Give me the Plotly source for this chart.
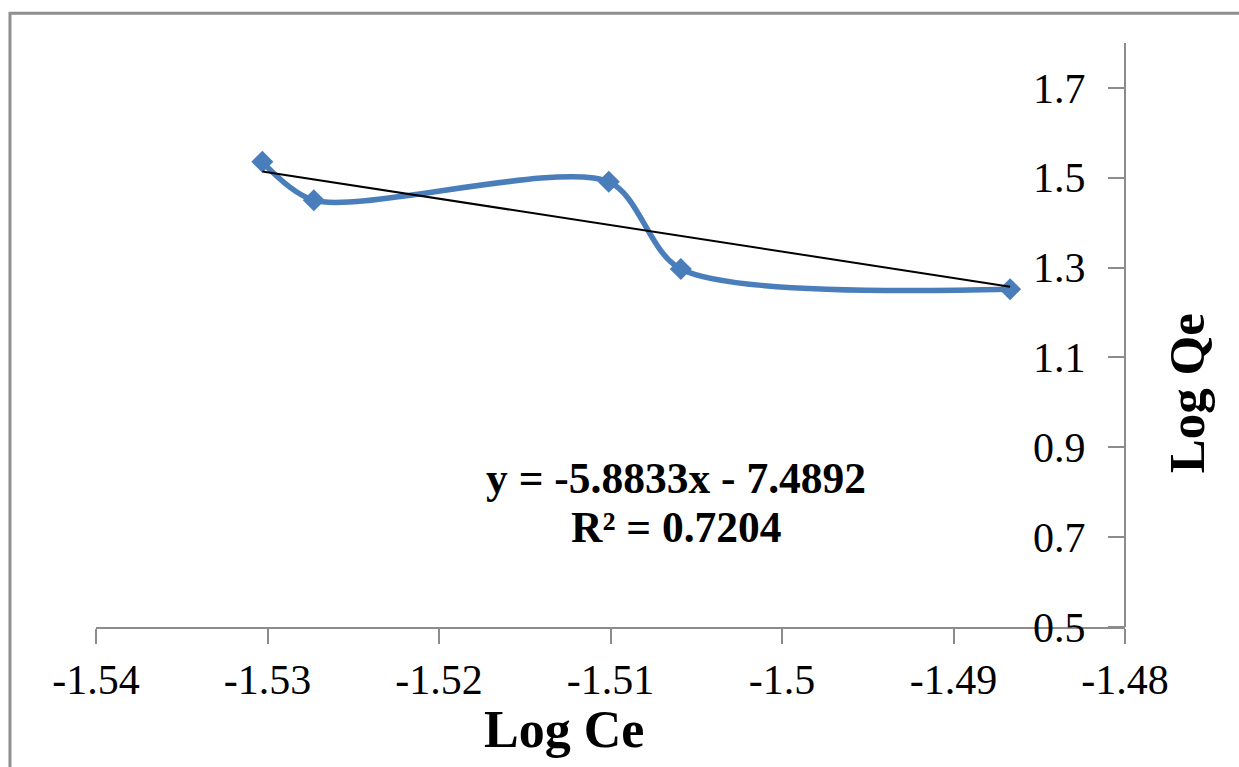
import plotly.graph_objects as go

# Freundlich isotherm data (log-log)
log_ce = [-1.5303, -1.5273, -1.5101, -1.5059, -1.4867]
log_qe = [1.5356, 1.450, 1.491, 1.297, 1.252]

# Linear trendline as reported on the chart
slope = -5.8833
intercept = -7.4892
r_squared = 0.7204

x_tickvals = [-1.54, -1.53, -1.52, -1.51, -1.50, -1.49, -1.48]
x_ticktext = ["-1.54", "-1.53", "-1.52", "-1.51", "-1.5", "-1.49", "-1.48"]
y_tickvals = [0.5, 0.7, 0.9, 1.1, 1.3, 1.5, 1.7]
y_ticktext = ["0.5", "0.7", "0.9", "1.1", "1.3", "1.5", "1.7"]

FONT = "Liberation Serif"
BLUE = "#4a7ebb"
AXIS_GREY = "#8c8c8c"

trend_x = [min(log_ce), max(log_ce)]
trend_y = [slope * v + intercept for v in trend_x]

fig = go.Figure()

fig.add_trace(go.Scatter(
    x=log_ce, y=log_qe,
    mode="lines+markers",
    line=dict(color=BLUE, width=5.5, shape="spline", smoothing=0.8),
    marker=dict(symbol="diamond", size=17, color=BLUE),
    showlegend=False,
))

fig.add_trace(go.Scatter(
    x=trend_x, y=trend_y,
    mode="lines",
    line=dict(color="black", width=2),
    showlegend=False,
))

fig.update_layout(
    width=1239, height=767,
    margin=dict(l=96, r=114, t=43, b=140),
    paper_bgcolor="white",
    plot_bgcolor="white",
    font=dict(family=FONT, color="black", size=42),
    xaxis=dict(
        range=[-1.54, -1.48],
        tickvals=x_tickvals, ticktext=x_ticktext,
        showgrid=False, zeroline=False,
        showline=True, linecolor=AXIS_GREY, linewidth=2,
        ticks="outside", ticklen=15, tickwidth=2, tickcolor=AXIS_GREY,
        tickfont=dict(family=FONT, size=42, color="black"),
        anchor="y",
    ),
    yaxis=dict(
        range=[0.5, 1.8],
        tickvals=y_tickvals, ticktext=y_ticktext,
        showgrid=False, zeroline=False,
        showline=True, linecolor=AXIS_GREY, linewidth=2,
        ticks="outside", ticklen=16, tickwidth=2, tickcolor=AXIS_GREY,
        tickfont=dict(family=FONT, size=42, color="black"),
        anchor="free", position=1.0, side="left",
        ticklabelstandoff=14,
    ),
)

# Outer chart border
fig.add_shape(type="rect", xref="paper", yref="paper",
              x0=-0.0836, x1=1.13, y0=-0.27, y1=1.0508,
              line=dict(color="#8f8f8f", width=3), fillcolor="rgba(0,0,0,0)",
              layer="below")

# Axis titles
fig.add_annotation(text="<b>Log Ce</b>", xref="paper", yref="paper",
                   x=0.4548, y=-0.175, xanchor="center", yanchor="middle",
                   showarrow=False, font=dict(family=FONT, size=52, color="black"))
fig.add_annotation(text="<b>Log Qe</b>", xref="paper", yref="paper",
                   x=1.061, y=0.400, xanchor="center", yanchor="middle",
                   textangle=-90,
                   showarrow=False, font=dict(family=FONT, size=51, color="black"))

# Trendline equation and R²
fig.add_annotation(text=f"<b>y = {slope}x - {abs(intercept)}</b>",
                   xref="paper", yref="paper", x=0.5636, y=0.2545,
                   xanchor="center", yanchor="middle", showarrow=False,
                   font=dict(family=FONT, size=43.5, color="black"))
fig.add_annotation(text=f"<b>R² = {r_squared}</b>",
                   xref="paper", yref="paper", x=0.5646, y=0.1715,
                   xanchor="center", yanchor="middle", showarrow=False,
                   font=dict(family=FONT, size=43.5, color="black"))

fig.write_html("out.html")
